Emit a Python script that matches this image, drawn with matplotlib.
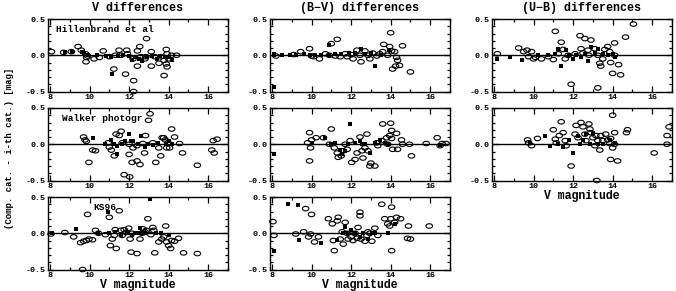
import matplotlib
matplotlib.use('Agg')
import matplotlib.pyplot as plt
from matplotlib.path import Path
from matplotlib.transforms import Affine2D
from matplotlib.ticker import MultipleLocator

# ---- data: (V magnitude, difference) ----
# row 1: Hillenbrand et al.
v_hil_open = [(8.08, 0.05), (8.69, 0.04), (9.08, 0.05), (9.42, 0.12), (9.58, 0.07), (9.8, 0.02),
              (9.85, -0.03), (9.82, -0.09), (10.23, -0.05), (10.69, 0.06), (11.0, -0.02), (11.23, -0.19),
              (11.49, 0.07), (11.88, 0.07), (11.92, 0.02), (11.82, -0.26), (12.23, -0.35), (12.23, -0.5),
              (12.42, 0.06), (12.54, 0.12), (12.88, 0.23), (12.42, -0.15), (12.85, -0.02), (13.12, 0.05),
              (13.12, -0.15), (13.51, -0.11), (13.77, -0.07), (13.88, -0.12), (13.92, 0.02), (13.88, 0.08),
              (14.15, 0.0), (13.77, -0.28), (13.92, -0.16), (12.6, -0.02), (11.6, 0.0), (11.3, 0.0),
              (10.5, -0.03), (9.9, -0.01), (12.2, -0.05), (13.6, -0.02), (13.3, -0.02), (12.8, -0.05),
              (14.0, -0.05), (14.4, 0.0)]
v_hil_fill = [(8.77, 0.04), (9.1, 0.05), (9.6, 0.05), (9.74, 0.02), (9.92, 0.0), (10.4, 0.0), (10.85, -0.01),
              (11.08, -0.02), (11.12, -0.26), (11.46, -0.01), (11.7, 0.01), (12.0, -0.01), (12.15, -0.07),
              (12.3, -0.02), (12.5, -0.05), (12.66, -0.08), (12.9, -0.02), (13.15, -0.01), (13.4, -0.05),
              (13.58, -0.01), (13.8, -0.03), (14.0, -0.02), (14.15, -0.06)]
bv_hil_open = [(8.2, -0.01), (9.1, 0.01), (9.45, 0.05), (9.9, 0.09), (10.0, -0.01), (10.1, -0.02),
               (10.4, -0.05), (10.7, 0.02), (11.0, 0.16), (10.9, 0.0), (11.3, 0.22), (11.2, -0.01),
               (11.45, -0.02), (11.7, 0.02), (11.8, -0.02), (12.0, 0.01), (12.1, -0.05), (12.3, 0.07),
               (12.45, 0.0), (12.5, -0.09), (12.7, 0.06), (12.85, 0.0), (12.95, -0.05), (13.1, 0.03),
               (13.3, -0.01), (13.45, 0.02), (13.6, 0.05), (13.65, 0.15), (13.85, 0.0), (13.95, 0.12),
               (14.0, 0.31), (14.05, 0.06), (14.2, 0.05), (14.3, -0.03), (14.35, -0.07), (14.1, -0.19),
               (14.25, -0.15), (14.45, -0.14), (14.6, 0.13), (15.0, -0.23)]
bv_hil_fill = [(8.1, 0.0), (8.1, 0.02), (8.1, -0.44), (8.5, 0.0), (8.9, 0.0), (9.2, 0.01), (9.6, 0.02),
               (9.9, 0.01), (10.2, 0.01), (10.5, 0.01), (10.9, 0.0), (10.9, 0.14), (11.2, 0.02), (11.5, 0.02),
               (11.9, 0.03), (12.2, 0.03), (12.5, 0.08), (12.7, 0.02), (13.0, 0.03), (13.2, -0.15),
               (13.5, 0.01), (13.9, 0.07)]
ub_hil_open = [(8.17, 0.02), (9.25, 0.1), (9.5, 0.05), (9.67, 0.07), (9.75, -0.02), (9.9, 0.05), (10.0, -0.05),
               (10.1, -0.03), (10.4, -0.05), (10.75, -0.02), (11.0, -0.06), (11.1, 0.33), (11.4, 0.18),
               (11.25, 0.02), (11.5, 0.08), (11.6, -0.05), (11.75, 0.0), (11.9, -0.4), (12.1, 0.02),
               (12.35, 0.27), (12.6, 0.23), (12.4, 0.09), (12.5, 0.03), (12.75, 0.07), (12.9, 0.21),
               (12.8, 0.0), (13.1, 0.09), (13.25, 0.0), (13.25, -0.45), (13.35, -0.11), (13.4, -0.15),
               (13.5, -0.05), (13.6, 0.08), (13.75, 0.12), (13.85, 0.05), (13.9, -0.1), (14.1, 0.17),
               (14.0, -0.25), (14.1, 0.0), (14.3, -0.13), (14.4, -0.27), (14.65, 0.25), (15.05, 0.43)]
ub_hil_fill = [(8.17, -0.05), (8.8, -0.02), (9.4, -0.06), (10.25, 0.0), (10.75, 0.0), (11.1, 0.02),
               (11.25, 0.09), (11.4, -0.15), (11.65, 0.07), (11.8, 0.0), (12.0, -0.05), (12.15, 0.0),
               (12.4, -0.03), (12.6, 0.02), (12.75, -0.08), (12.9, 0.12), (13.1, 0.03), (13.25, 0.08),
               (13.5, 0.02), (13.75, 0.0), (14.0, 0.02), (14.1, -0.02)]

# row 2: Walker photographic
v_wal_open = [(9.7, 0.1), (9.77, 0.06), (9.84, 0.04), (10.16, -0.08), (10.3, -0.09), (9.97, -0.25),
              (10.94, 0.02), (11.0, -0.04), (11.1, -0.08), (11.25, -0.16), (11.34, 0.14), (11.5, 0.12),
              (11.6, 0.18), (11.65, 0.02), (11.75, -0.42), (12.03, -0.45), (12.0, -0.14), (12.15, -0.25),
              (12.2, -0.05), (12.4, -0.23), (12.55, -0.28), (12.7, 0.01), (12.78, -0.12), (12.83, 0.12),
              (12.98, 0.33), (13.06, 0.42), (13.2, 0.02), (13.35, -0.25), (13.5, -0.05), (13.6, -0.16),
              (13.67, 0.09), (13.75, 0.09), (13.83, 0.06), (13.9, -0.05), (13.97, 0.02), (14.05, -0.05),
              (14.15, 0.21), (14.3, 0.1), (14.55, 0.01), (14.7, -0.12), (15.45, -0.29), (16.18, -0.08),
              (16.3, -0.12), (16.25, 0.05), (16.45, 0.07), (12.0, 0.0), (12.4, -0.02)]
v_wal_fill = [(10.2, 0.09), (10.77, 0.0), (11.1, 0.06), (11.25, 0.01), (11.4, -0.02), (11.65, 0.0),
              (11.8, 0.05), (11.99, 0.14), (12.2, 0.05), (12.45, 0.0), (12.6, 0.12), (12.8, -0.04),
              (12.95, 0.0), (13.2, -0.01), (13.45, 0.02), (13.85, 0.0), (14.0, 0.05), (14.15, 0.0),
              (11.4, -0.14), (12.1, 0.05)]
bv_wal_open = [(9.8, 0.02), (9.9, 0.16), (10.0, 0.06), (9.9, -0.23), (9.95, -0.05), (10.23, 0.09),
               (10.6, 0.09), (10.9, 0.0), (11.0, 0.21), (11.15, -0.05), (11.3, -0.12), (11.35, -0.18),
               (11.5, -0.16), (11.6, -0.09), (11.7, 0.0), (11.8, -0.07), (11.95, 0.05), (12.03, -0.25),
               (12.2, -0.21), (12.3, -0.12), (12.45, 0.1), (12.55, -0.09), (12.6, -0.19), (12.7, -0.05),
               (12.8, 0.14), (12.85, -0.09), (12.95, -0.3), (13.0, -0.26), (13.2, -0.3), (13.3, 0.02),
               (13.35, -0.02), (13.55, 0.05), (13.6, 0.28), (13.8, 0.09), (13.85, 0.0), (13.95, 0.12),
               (14.0, 0.29), (14.05, 0.19), (14.05, 0.08), (14.1, -0.07), (14.3, 0.15), (14.35, -0.07),
               (14.55, 0.06), (14.6, 0.0), (14.95, 0.0), (15.05, -0.16), (15.8, 0.01), (16.35, 0.09),
               (16.5, -0.02), (16.6, 0.01), (16.8, 0.01)]
bv_wal_fill = [(8.1, -0.13), (10.0, 0.02), (10.7, 0.09), (11.0, 0.0), (11.2, 0.02), (11.45, -0.08),
               (11.55, -0.14), (11.7, -0.09), (11.85, 0.0), (11.95, 0.28), (12.2, 0.02), (12.45, 0.05),
               (12.55, 0.0), (12.7, 0.0), (12.95, -0.12), (13.2, 0.02), (13.45, 0.06), (13.7, 0.02),
               (13.85, 0.0), (16.5, -0.01)]
ub_wal_open = [(9.7, 0.06), (9.75, 0.02), (9.9, -0.02), (10.2, 0.08), (11.0, 0.2), (11.1, 0.07), (11.15, 0.02),
               (11.3, 0.12), (11.4, 0.31), (11.5, 0.16), (11.6, 0.05), (11.65, -0.02), (11.9, -0.3),
               (12.1, 0.14), (12.15, 0.26), (12.25, 0.09), (12.4, 0.3), (12.5, 0.24), (12.6, 0.14),
               (12.65, 0.05), (12.8, 0.28), (12.85, 0.21), (12.9, 0.16), (13.0, 0.09), (13.1, -0.02),
               (13.15, 0.12), (13.25, 0.05), (13.35, -0.08), (13.4, 0.12), (13.5, 0.05), (13.65, 0.14),
               (13.75, 0.06), (13.85, 0.01), (13.9, 0.08), (14.0, -0.05), (14.0, 0.4), (13.9, -0.21),
               (14.1, 0.16), (14.1, 0.0), (14.25, -0.23), (14.7, 0.16), (14.75, 0.2), (16.1, -0.12),
               (16.85, 0.24), (16.75, 0.12), (16.75, 0.0), (13.2, -0.5)]
ub_wal_fill = [(9.8, 0.02), (10.6, 0.12), (10.85, -0.02), (11.25, 0.0), (11.5, -0.04), (11.8, 0.06),
               (12.0, -0.12), (12.25, 0.12), (12.35, 0.0), (12.5, 0.06), (12.65, 0.14), (12.85, 0.0),
               (13.0, 0.16), (13.25, 0.0), (13.5, 0.0), (13.85, 0.06), (14.1, 0.02)]

# row 3: KS96
v_ks_open = [(8.05, -0.01), (8.75, 0.01), (9.2, -0.05), (9.55, -0.13), (9.7, -0.11), (9.85, -0.1),
             (9.97, -0.08), (10.15, -0.09), (9.9, 0.26), (10.3, 0.04), (10.45, 0.0), (10.8, -0.02),
             (11.0, 0.22), (11.05, -0.17), (11.15, -0.08), (11.25, -0.03), (11.3, 0.05), (11.35, -0.21),
             (11.5, 0.31), (11.58, 0.04), (11.65, -0.03), (11.75, 0.05), (11.85, 0.01), (11.98, 0.07),
             (12.05, -0.08), (12.1, -0.26), (12.15, 0.0), (12.4, -0.28), (12.55, -0.08), (12.65, 0.0),
             (12.7, 0.06), (12.8, 0.02), (12.87, 0.04), (12.95, 0.2), (13.1, -0.02), (13.2, 0.08),
             (13.25, 0.04), (13.3, -0.27), (13.5, -0.12), (13.65, -0.08), (13.75, -0.05), (13.85, 0.1),
             (13.9, -0.12), (14.0, -0.17), (14.1, -0.21), (14.15, -0.1), (14.3, -0.11), (14.5, -0.07),
             (14.75, -0.27), (15.45, -0.28), (9.65, -0.5)]
v_ks_fill = [(8.1, 0.0), (9.3, 0.06), (10.45, 0.0), (10.95, 0.29), (11.0, 0.0), (11.3, 0.02), (11.6, -0.03),
             (11.9, 0.0), (12.15, -0.03), (12.3, 0.0), (12.5, 0.0), (12.55, 0.07), (12.7, 0.01), (12.8, 0.0),
             (13.05, 0.47), (13.35, 0.0), (13.6, 0.01), (14.0, -0.03)]
bv_ks_open = [(8.05, 0.16), (8.1, -0.03), (9.2, -0.01), (9.6, 0.02), (9.7, 0.34), (9.85, -0.05), (9.95, -0.01),
              (10.0, 0.26), (10.35, -0.05), (10.15, -0.12), (10.85, 0.2), (11.05, 0.13), (11.1, -0.1),
              (11.15, -0.24), (11.3, 0.17), (11.35, 0.22), (11.45, -0.08), (11.55, 0.02), (11.6, -0.15),
              (11.7, 0.15), (11.8, 0.0), (11.85, -0.08), (12.0, -0.05), (12.1, -0.1), (12.2, 0.0),
              (12.3, -0.07), (12.35, 0.08), (12.45, 0.29), (12.45, 0.24), (12.5, -0.08), (12.7, -0.11),
              (12.8, -0.03), (12.85, 0.02), (12.95, 0.0), (13.05, -0.11), (13.2, 0.07), (13.35, -0.03),
              (13.55, 0.4), (13.7, 0.2), (13.85, 0.13), (13.95, 0.1), (14.0, 0.2), (14.05, 0.36),
              (14.05, -0.24), (14.2, 0.15), (14.3, 0.22), (14.5, 0.2), (14.85, -0.07), (15.0, -0.08),
              (14.9, 0.1), (15.95, 0.1)]
bv_ks_fill = [(8.1, -0.24), (8.8, 0.41), (9.3, 0.39), (9.35, -0.09), (10.5, -0.14), (11.3, -0.09), (11.6, 0.0),
              (11.7, 0.08), (11.85, 0.0), (12.0, 0.05), (12.2, 0.0), (12.45, -0.05), (12.6, 0.0),
              (12.85, -0.08), (13.05, 0.0), (13.2, 0.0), (13.85, 0.0), (14.2, 0.13)]

titles = ['V differences', '(B\u2212V) differences', '(U\u2212B) differences']
catalogs = ['Hillenbrand et al', 'Walker photogr', 'KS96']
xticks = [8, 10, 12, 14, 16]
yticks = [-0.5, 0.0, 0.5]

panels = {
    (0, 0): (v_hil_open, v_hil_fill), (0, 1): (bv_hil_open, bv_hil_fill), (0, 2): (ub_hil_open, ub_hil_fill),
    (1, 0): (v_wal_open, v_wal_fill), (1, 1): (bv_wal_open, bv_wal_fill), (1, 2): (ub_wal_open, ub_wal_fill),
    (2, 0): (v_ks_open, v_ks_fill), (2, 1): (bv_ks_open, bv_ks_fill),
}

FONT = ['Liberation Mono', 'DejaVu Sans Mono']
plt.rcParams['font.family'] = FONT
plt.rcParams['font.weight'] = 'bold'

# flattened ellipse marker
ellipse = Path.unit_circle().transformed(Affine2D().scale(1.45, 1.0))

fig = plt.figure(figsize=(6.76, 2.91), dpi=100)
W, H = 676.0, 291.0
lefts = [48, 270, 492]
tops = [19, 108, 197]
aw, ah = 180, 72.5

for (r, c), (opn, fil) in panels.items():
    ax = fig.add_axes([lefts[c] / W, 1 - (tops[r] + ah) / H, aw / W, ah / H])
    ox, oy = zip(*opn)
    fx, fy = zip(*fil)
    ax.scatter(ox, oy, marker=ellipse, s=22, facecolors='none', edgecolors='black', linewidths=0.8,
               clip_on=False, zorder=3)
    ax.scatter(fx, fy, marker='s', s=5, color='black', linewidths=0, zorder=3)
    ax.axhline(0, color='black', lw=1.0)
    ax.set_xlim(7.9, 17.0)
    ax.set_ylim(-0.5, 0.5)
    ax.set_xticks(xticks)
    ax.set_xticklabels([str(t) for t in xticks])
    ax.set_yticks(yticks)
    ax.set_yticklabels(['-0.5', '0.0', '0.5'])
    ax.xaxis.set_minor_locator(MultipleLocator(1))
    ax.yaxis.set_minor_locator(MultipleLocator(0.1))
    ax.tick_params(which='both', direction='in', top=True, right=True, labelsize=6, width=0.9, pad=2)
    ax.tick_params(which='major', length=4)
    ax.tick_params(which='minor', length=2.2)
    for sp in ax.spines.values():
        sp.set_linewidth(1.0)
    if c == 0:
        ax.text([8.3, 8.6, 10.2][r], 0.36, catalogs[r], fontsize=6.8, fontweight='bold',
                ha='left', va='center')
    if r == 0:
        ax.set_title(titles[c], fontsize=8.5, fontweight='bold', pad=6)
    if (r == 2) or (r == 1 and c == 2):
        ax.set_xlabel('V magnitude', fontsize=8.3, fontweight='bold', labelpad=0)

fig.text(10 / W, 1 - 148 / H, '(Comp. cat. - i-th cat.) [mag]', rotation=90, ha='center', va='center',
         fontsize=6.5, fontweight='bold')

fig.savefig('out.png', dpi=100)
